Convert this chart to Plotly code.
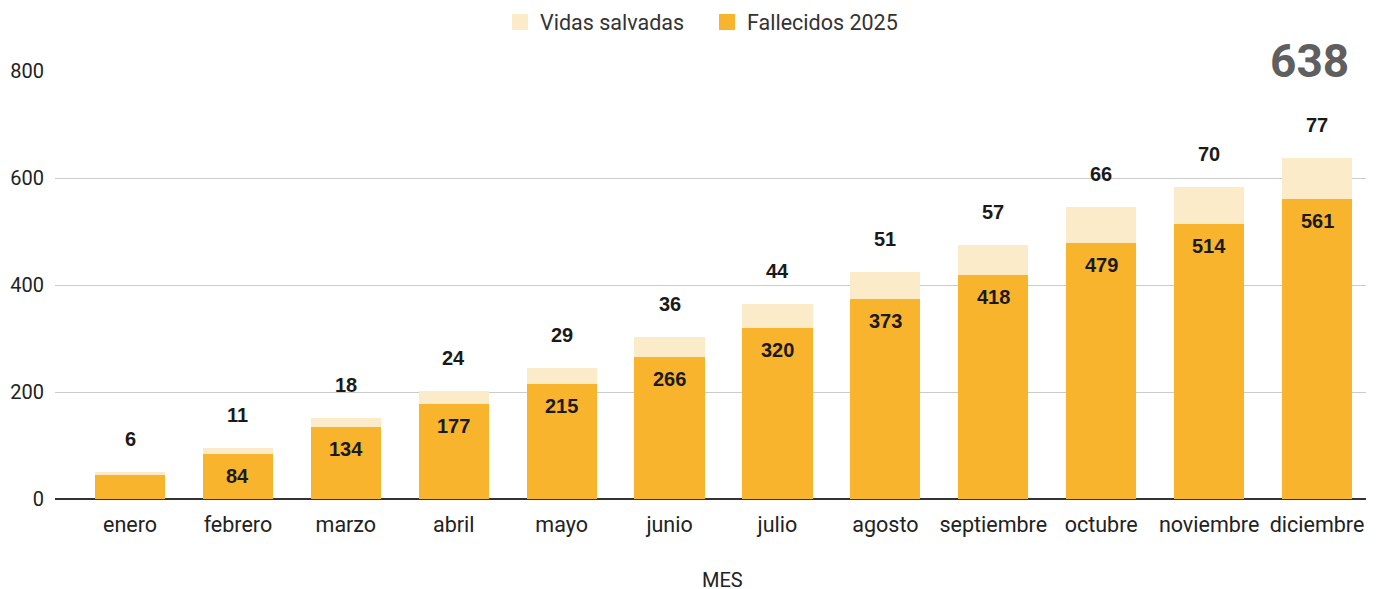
import plotly.graph_objects as go

meses = ["enero", "febrero", "marzo", "abril", "mayo", "junio", "julio",
         "agosto", "septiembre", "octubre", "noviembre", "diciembre"]
fallecidos = [45, 84, 134, 177, 215, 266, 320, 373, 418, 479, 514, 561]
vidas = [6, 11, 18, 24, 29, 36, 44, 51, 57, 66, 70, 77]
total_label = "638"
x_title = "MES"

C_FALL = "#F8B42C"
C_VIDA = "#FCEBC8"

fig = go.Figure()
fig.add_trace(go.Bar(x=meses, y=fallecidos, name="Fallecidos 2025", showlegend=False,
                     marker=dict(color=C_FALL, line=dict(width=0)), width=0.65))
fig.add_trace(go.Bar(x=meses, y=vidas, name="Vidas salvadas", showlegend=False,
                     marker=dict(color=C_VIDA, line=dict(width=0)), width=0.65))
# legend entries with larger square swatches
fig.add_trace(go.Scatter(x=[None], y=[None], mode="markers", name="Fallecidos 2025",
                         marker=dict(symbol="square", size=20, color=C_FALL)))
fig.add_trace(go.Scatter(x=[None], y=[None], mode="markers", name="Vidas salvadas",
                         marker=dict(symbol="square", size=20, color=C_VIDA)))

LBL = dict(family="Liberation Sans, Arial", size=20, color="#1a1a1a", weight="bold")
ann = []
for m, f, v in zip(meses, fallecidos, vidas):
    if f >= 60:
        ann.append(dict(x=m, y=f, xref="x", yref="y", text=str(f), showarrow=False,
                        yanchor="middle", yshift=-22, font=LBL))
    ann.append(dict(x=m, y=f + v, xref="x", yref="y", text=str(v), showarrow=False,
                    yanchor="middle", yshift=33, font=LBL))
ann.append(dict(x=(1309 - 55) / 1311, y=1 + (71 - 61) / 428, xref="paper", yref="paper",
                xanchor="center", yanchor="middle", text=total_label, showarrow=False,
                font=dict(family="Roboto", size=46, color="#5f5f5f", weight="bold")))
ann.append(dict(x=(722 - 55) / 1311, y=-(580 - 499) / 428, xref="paper", yref="paper",
                xanchor="center", yanchor="middle", text=x_title, showarrow=False,
                font=dict(family="Roboto", size=20, color="#222222")))

# page body adds an 8px offset; size/margins compensate so plot spans x 55-1366, y 71-499
fig.update_layout(
    barmode="stack",
    width=1373, height=581,
    margin=dict(l=47, r=15, t=63, b=90, autoexpand=False),
    plot_bgcolor="white", paper_bgcolor="white",
    font=dict(family="Roboto", size=20, color="#222222"),
    legend=dict(orientation="h", x=(707 - 55) / 1311, xanchor="center",
                y=1 + (71 - 22) / 428, yanchor="middle",
                traceorder="reversed", itemsizing="trace", entrywidth=162,
                font=dict(size=21.5, color="#333333")),
    xaxis=dict(range=[-0.695, 11.454], showgrid=False, ticks="", showline=False, automargin=False,
               tickfont=dict(size=21.5, color="#222222"), ticklabelstandoff=10),
    yaxis=dict(range=[0, 800], dtick=200, gridcolor="#cccccc", gridwidth=1, automargin=False,
               zeroline=True, zerolinecolor="#333333", zerolinewidth=2,
               tickfont=dict(size=20, color="#222222"), ticks="", ticklabelstandoff=10),
    annotations=ann,
)

fig.write_html("out.html")
